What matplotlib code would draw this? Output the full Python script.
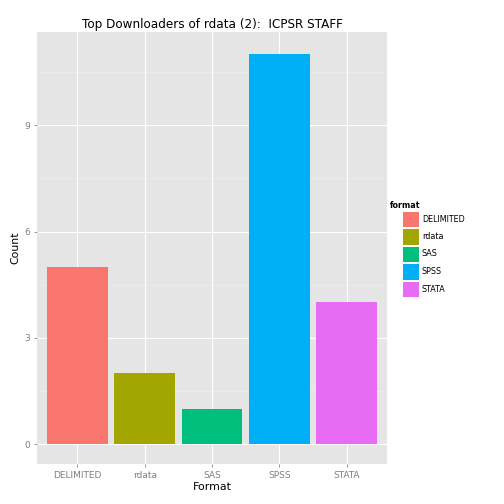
import matplotlib
matplotlib.use("Agg")
import matplotlib.pyplot as plt
from matplotlib.patches import Rectangle

# data
formats = ["DELIMITED", "rdata", "SAS", "SPSS", "STATA"]
counts = [5, 2, 1, 11, 4]
colors = ["#F8766D", "#A3A500", "#00BF7D", "#00B0F6", "#E76BF3"]
yticks = [0, 3, 6, 9]

fig = plt.figure(figsize=(7, 7), dpi=72)
ax = fig.add_axes([37/504, 40/504, 350/504, 432/504])
ax.set_facecolor("#E5E5E5")

x = list(range(len(formats)))
ax.bar(x, counts, width=0.9, color=colors, zorder=3)

ax.set_xlim(-0.6, 4.6)
ax.set_ylim(-0.56, 11.63)
ax.set_xticks(x)
ax.set_xticklabels(formats)
ax.set_yticks(yticks)
ax.set_yticks([1.5, 4.5, 7.5, 10.5], minor=True)
ax.grid(True, which="major", color="white", linewidth=1.1, zorder=0)
ax.grid(True, which="minor", axis="y", color="#F2F2F2", linewidth=0.5, zorder=0)
ax.tick_params(axis="y", which="minor", length=0)
ax.tick_params(which="major", length=3, color="#7F7F7F", labelcolor="#7F7F7F", labelsize=9)
for s in ax.spines.values():
    s.set_visible(False)

ax.set_xlabel("Format", fontsize=11, labelpad=2)
ax.set_ylabel("Count", fontsize=11, labelpad=4)
ax.set_title("Top Downloaders of rdata (2):  ICPSR STAFF", fontsize=12, pad=4)

# legend drawn manually ggplot-style
fig.text(390/504, 1 - 205/504, "format", fontsize=8, fontweight="bold", va="center")
for i, (f, c) in enumerate(zip(formats, colors)):
    top = 210 + i * 17.5
    fig.patches.append(Rectangle((402/504 - 0.0, 1 - (top + 17)/504), 17/504, 16.5/504,
                                 transform=fig.transFigure, facecolor=c, edgecolor="white"))
    fig.text(422/504, 1 - (top + 9)/504, f, fontsize=8, va="center")

fig.savefig("out.png", dpi=72)
